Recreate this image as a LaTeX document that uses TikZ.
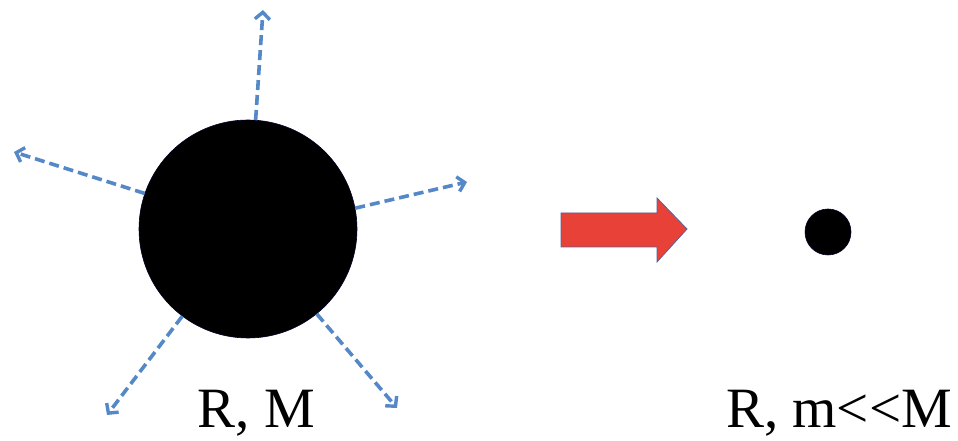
\documentclass[tikz,border=0pt]{standalone}
\usepackage{fontspec}
\setmainfont{Liberation Serif}[Ligatures=NoCommon]
\usetikzlibrary{arrows.meta}
\definecolor{rayblue}{RGB}{84,136,198}
\definecolor{arrred}{RGB}{232,65,56}
\definecolor{arredge}{RGB}{90,96,150}
\tikzset{
  ray/.style={rayblue, line width=3.6pt, dash pattern=on 10pt off 5pt,
    -{Straight Barb[length=7pt,width=15pt,line width=3.4pt]}},
  body/.style={circle, fill=black, draw=black!85!blue, line width=0.6pt, inner sep=0pt},
  lbl/.style={font=\fontsize{57}{60}\selectfont, anchor=base, inner sep=0pt}
}
\begin{document}
\begin{tikzpicture}[x=1pt,y=1pt]
\useasboundingbox (0,0) rectangle (958,441);
\node[body, minimum size=218pt] (big) at (248,212) {};
\coordinate (tu) at (263,431);
\coordinate (tl) at (14,289);
\coordinate (tr) at (467,259);
\coordinate (tll) at (107,26);
\coordinate (tlr) at (397,33);
\draw[ray] (big.86.4) -- (tu);
\draw[ray] (big.161.7) -- (tl);
\draw[ray] (big.11.9) -- (tr);
\draw[ray] (big.233.4) -- (tll);
\draw[ray] (big.309.5) -- (tlr);
\draw[fill=arrred, draw=arredge, line width=0.8pt]
  (561,194) -- (657,194) -- (657,179) -- (687,212) -- (657,243) -- (657,228) -- (561,228) -- cycle;
\node[body, minimum size=46pt] (small) at (828,209) {};
\node[lbl] (lm) at (256.5,13) {R, M};
\node[lbl] (ls) at (839,13) {R, m{<}{<}M};
\end{tikzpicture}
\end{document}
